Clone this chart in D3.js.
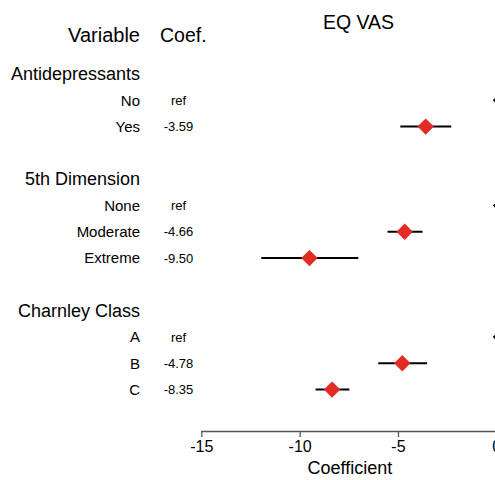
<!DOCTYPE html>
<html>
<head>
<meta charset="utf-8">
<script src="https://cdn.jsdelivr.net/npm/d3@7"></script>
<style>
  html, body { margin: 0; padding: 0; background: #fff; }
  svg { display: block; font-family: "Liberation Sans", Arial, sans-serif; }
</style>
</head>
<body>
<div id="chart"></div>
<script>
// ---- data ----
const rowKeys   = ["g1", "No", "Yes", "s1", "g2", "None", "Moderate", "Extreme", "s2", "g3", "A", "B", "C"];
const groupKeys = ["g1", "g2", "g3"];
const groupLabels = ["Antidepressants", "5th Dimension", "Charnley Class"];
const levelKeys   = ["No", "Yes", "None", "Moderate", "Extreme", "A", "B", "C"];
const levelLabels = ["No", "Yes", "None", "Moderate", "Extreme", "A", "B", "C"];
const coefLabels  = ["ref", "-3.59", "ref", "-4.66", "-9.50", "ref", "-4.78", "-8.35"];
const isRef       = [true, false, true, false, false, true, false, false];
const estimates   = [0, -3.59, 0, -4.66, -9.50, 0, -4.78, -8.35];
const lowerCI     = [0, -4.88, 0, -5.53, -11.95, 0, -6.00, -9.19];
const upperCI     = [0, -2.29, 0, -3.75, -7.02, 0, -3.52, -7.47];
const xTicks      = [-15, -10, -5, 0];
const title = "EQ VAS";
const xTitle = "Coefficient";
const headVar = "Variable";
const headCoef = "Coef.";

// ---- layout ----
const W = 495, H = 480;
const svg = d3.select("#chart").append("svg").attr("width", W).attr("height", H);

const x = d3.scaleLinear().domain([-15, 0]).range([201.3, 496.3]);
const yPos = d3.scalePoint().domain(rowKeys).range([74, 74 + 26.3 * 12]);

// headers
svg.append("text").attr("x", 140).attr("y", 42).attr("text-anchor", "end")
  .attr("font-size", 20).attr("fill", "#000").text(headVar);
svg.append("text").attr("x", 160).attr("y", 42).attr("text-anchor", "start")
  .attr("font-size", 19.5).attr("fill", "#000").text(headCoef);
svg.append("text").attr("x", 358.5).attr("y", 29).attr("text-anchor", "middle")
  .attr("font-size", 19.5).attr("fill", "#000").text(title);

// group labels
svg.selectAll("text.group").data(groupKeys).enter().append("text")
  .attr("class", "group")
  .attr("x", 140).attr("y", (d) => yPos(d) + 6)
  .attr("text-anchor", "end").attr("font-size", 18).attr("fill", "#000")
  .text((d, i) => groupLabels[i]);

const levels = levelKeys.map((k, i) => ({
  key: k, label: levelLabels[i], coef: coefLabels[i], ref: isRef[i],
  est: estimates[i], lo: lowerCI[i], hi: upperCI[i]
}));

// level labels
svg.selectAll("text.level").data(levels).enter().append("text")
  .attr("class", "level")
  .attr("x", 140).attr("y", d => yPos(d.key) + 5.3)
  .attr("text-anchor", "end").attr("font-size", 15).attr("fill", "#000")
  .text(d => d.label);

svg.selectAll("text.coef").data(levels).enter().append("text")
  .attr("class", "coef")
  .attr("x", 178.5).attr("y", d => yPos(d.key) + 4.6)
  .attr("text-anchor", "middle").attr("font-size", 13).attr("fill", "#000")
  .text(d => d.coef);

// CI lines
const est = levels.filter(d => !d.ref);
svg.selectAll("line.ci").data(est).enter().append("line")
  .attr("class", "ci")
  .attr("x1", d => x(d.lo)).attr("x2", d => x(d.hi))
  .attr("y1", d => yPos(d.key)).attr("y2", d => yPos(d.key))
  .attr("stroke", "#000").attr("stroke-width", 2);

// diamonds
const diamond = (r) => `M0,${-r}L${r},0L0,${r}L${-r},0Z`;
svg.selectAll("path.pt").data(est).enter().append("path")
  .attr("class", "pt")
  .attr("transform", d => `translate(${x(d.est)},${yPos(d.key)})`)
  .attr("d", diamond(8.2))
  .attr("fill", "#e32b26");

svg.selectAll("path.ref").data(levels.filter(d => d.ref)).enter().append("path")
  .attr("class", "ref")
  .attr("transform", d => `translate(${x(d.est)},${yPos(d.key)})`)
  .attr("d", diamond(3.5))
  .attr("fill", "#000");

// x axis
const axisY = 431;
const axis = d3.axisBottom(x).tickValues(xTicks).tickSize(6).tickSizeOuter(0);
const gAx = svg.append("g").attr("transform", `translate(0,${axisY})`).call(axis);
gAx.select(".domain").attr("stroke", "#555").attr("stroke-width", 1.3)
  .attr("d", `M${x(-15)},0.5H${W}`);
gAx.selectAll(".tick line").attr("stroke", "#555").attr("stroke-width", 1.3);
gAx.selectAll(".tick text").attr("font-size", 16).attr("fill", "#000")
  .attr("font-family", "Liberation Sans, Arial, sans-serif")
  .attr("dy", null).attr("y", 21)
  .text(d => d < 0 ? "-" + Math.abs(d) : d);

svg.append("text").attr("x", (x(-15) + x(0)) / 2 + 1).attr("y", 474)
  .attr("text-anchor", "middle").attr("font-size", 18).attr("fill", "#000")
  .text(xTitle);
</script>
</body>
</html>
